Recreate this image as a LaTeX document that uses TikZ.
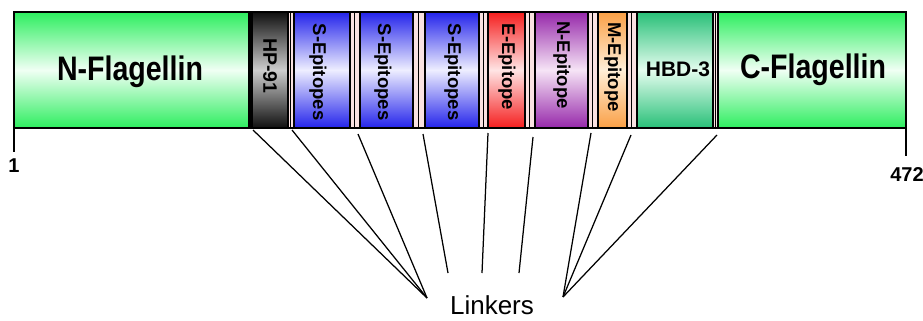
\documentclass[tikz,border=0pt]{standalone}
\usepackage{fontspec}
\setmainfont{Liberation Sans}
\definecolor{flag}{RGB}{45,238,95}
\definecolor{flagmid}{RGB}{240,255,244}
\definecolor{hbd}{RGB}{40,192,120}
\definecolor{hbdmid}{RGB}{228,252,238}
\definecolor{hpdark}{RGB}{15,15,15}
\definecolor{hpmid}{RGB}{205,205,205}
\definecolor{sblue}{RGB}{35,35,235}
\definecolor{sbluemid}{RGB}{238,238,255}
\definecolor{ered}{RGB}{245,30,30}
\definecolor{eredmid}{RGB}{255,228,228}
\definecolor{npurple}{RGB}{150,40,170}
\definecolor{npurplemid}{RGB}{246,228,246}
\definecolor{morange}{RGB}{250,160,70}
\definecolor{morangemid}{RGB}{255,238,215}
\definecolor{linkpink}{RGB}{250,226,226}
\begin{document}
\begin{tikzpicture}[x=1pt,y=-1pt,
  seg/.style={draw=black, line width=1.2pt},
  gapline/.style={black, line width=1.1pt},
  connector/.style={black, line width=1.25pt},
  biglab/.style={font=\fontsize{34}{34}\selectfont\bfseries, xscale=0.84, inner sep=0, anchor=base},
  midlab/.style={font=\fontsize{21}{21}\selectfont\bfseries, inner sep=0, anchor=base},
  vlab/.style={font=\fontsize{18.5}{18.5}\selectfont\bfseries, rotate=-90, inner sep=0},
  poslab/.style={font=\fontsize{20}{20}\selectfont\bfseries, inner sep=0},
  linklab/.style={font=\fontsize{26}{26}\selectfont, inner sep=0}]
\useasboundingbox (0,0) rectangle (923,321);

% shaded domain block: from x #1 to x #2, colour #3 fading to #4 in the middle
\newcommand{\domainblock}[4]{%
  \shade[seg, top color=#3, bottom color=#3, middle color=#4] (#1,12) rectangle (#2,128);}
% linker strip between two domains
\newcommand{\linkerstrip}[2]{%
  \fill[linkpink] (#1,12) rectangle (#2,128);
  \draw[gapline] (#1,12) -- (#1,128);
  \draw[gapline] ({#1+0.45*(#2-#1)},12) -- ({#1+0.45*(#2-#1)},128);
  \draw[gapline] (#2,12) -- (#2,128);}

% domains
\domainblock{14}{249}{flag}{flagmid}
\domainblock{250}{288}{hpdark}{hpmid}
\linkerstrip{288}{294}
\domainblock{294}{350}{sblue}{sbluemid}
\linkerstrip{350}{360}
\domainblock{360}{413}{sblue}{sbluemid}
\linkerstrip{413}{425}
\domainblock{425}{479}{sblue}{sbluemid}
\linkerstrip{479}{488}
\domainblock{488}{525}{ered}{eredmid}
\linkerstrip{525}{535}
\domainblock{535}{588}{npurple}{npurplemid}
\linkerstrip{588}{598}
\domainblock{598}{627}{morange}{morangemid}
\linkerstrip{627}{637}
\domainblock{637}{713}{hbd}{hbdmid}
\linkerstrip{713}{718}
\domainblock{718}{906}{flag}{flagmid}
\fill[black] (249,12) rectangle (253,128);
\draw[black, line width=1.2pt] (14,12) rectangle (906,128);

% domain labels
\node[biglab] (nflag) at (130,80) {N-Flagellin};
\node[biglab] (cflag) at (813,78) {C-Flagellin};
\node[midlab] (hbd3) at (678,77) {HBD-3};
\node[vlab, font=\fontsize{19.5}{19.5}\selectfont\bfseries] (hp91) at (270,66) {HP-91};
\node[vlab] (sep1) at (318,72) {S-Epitopes};
\node[vlab] (sep2) at (383,72) {S-Epitopes};
\node[vlab] (sep3) at (453,72) {S-Epitopes};
\node[vlab] (eep) at (507,67) {E-Epitope};
\node[vlab] (nep) at (562,65) {N-Epitope};
\node[vlab] (mep) at (613,67) {M-Epitope};

% sequence ends
\coordinate (lend) at (14,128);
\coordinate (lendtick) at (14,152);
\coordinate (rend) at (906,128);
\coordinate (rendtick) at (906,156);
\draw[black, line width=1.2pt] (lend) -- (lendtick);
\draw[black, line width=1.2pt] (rend) -- (rendtick);
\node[poslab] (first) at (14,166) {1};
\node[poslab] (last) at (907,175) {472};

% linker callouts
\node[linklab] (linkers) at (492,305) {Linkers};
\coordinate (hubl) at (427,298);
\coordinate (hubr) at (563,297);
\coordinate (k1) at (253,130);
\coordinate (k2) at (292,130);
\coordinate (k3) at (358,134);
\coordinate (k4) at (423,134);
\coordinate (k5) at (488,133);
\coordinate (k6) at (533,137);
\coordinate (k7) at (591,133);
\coordinate (k8) at (631,135);
\coordinate (k9) at (717,135);
\coordinate (e4) at (448,273);
\coordinate (e5) at (482,273);
\coordinate (e6) at (519,273);
\draw[connector] (k1) -- (hubl);
\draw[connector] (k2) -- (hubl);
\draw[connector] (k3) -- (hubl);
\draw[connector] (k4) -- (e4);
\draw[connector] (k5) -- (e5);
\draw[connector] (k6) -- (e6);
\draw[connector] (k7) -- (hubr);
\draw[connector] (k8) -- (hubr);
\draw[connector] (k9) -- (hubr);
\end{tikzpicture}
\end{document}
